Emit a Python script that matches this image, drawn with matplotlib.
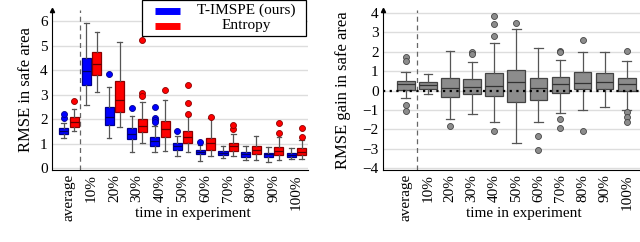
import numpy as np
from matplotlib import pyplot as plt
from matplotlib.patches import Rectangle

plt.rcParams['font.family'] = ['Liberation Serif', 'DejaVu Serif']

labels = ['average', '10%', '20%', '30%', '40%', '50%', '60%', '70%', '80%', '90%', '100%']
series_names = ['T-IMSPE (ours)', 'Entropy']
series_colors = ['#0000ff', '#ff0000']

# T-IMSPE (ours), RMSE in safe area
tim_q1 = [1.41, 3.41, 1.76, 1.17, 0.90, 0.73, 0.56, 0.53, 0.46, 0.46, 0.44]
tim_med = [1.52, 3.97, 2.10, 1.39, 1.10, 0.91, 0.67, 0.60, 0.56, 0.56, 0.53]
tim_q3 = [1.65, 4.48, 2.48, 1.65, 1.25, 1.01, 0.73, 0.69, 0.64, 0.63, 0.60]
tim_lo = [1.21, 2.57, 1.24, 0.64, 0.64, 0.50, 0.29, 0.42, 0.33, 0.26, 0.35]
tim_hi = [1.82, 5.93, 3.29, 2.12, 1.71, 1.30, 0.94, 0.90, 0.91, 0.87, 0.80]
tim_out = [[2.05, 2.20], [], [3.84], [2.46], [2.48, 2.05, 1.97, 1.90], [1.50],
           [1.07], [], [], [], []]

# Entropy, RMSE in safe area
ent_q1 = [1.69, 3.80, 2.27, 1.48, 1.25, 1.03, 0.73, 0.71, 0.57, 0.53, 0.53]
ent_med = [1.86, 4.23, 2.79, 1.71, 1.58, 1.28, 1.03, 0.90, 0.73, 0.71, 0.67]
ent_q3 = [2.07, 4.72, 3.55, 2.00, 1.93, 1.51, 1.24, 1.03, 0.91, 0.87, 0.83]
ent_lo = [1.52, 3.09, 1.69, 1.01, 0.71, 0.67, 0.50, 0.50, 0.33, 0.33, 0.37]
ent_hi = [2.39, 5.54, 5.13, 2.68, 2.78, 2.14, 2.03, 1.41, 1.31, 1.25, 1.15]
ent_out = [[2.73], [], [], [5.24, 3.07, 2.94], [3.18], [2.20, 2.67, 3.37],
           [2.07], [1.60, 1.77], [], [1.45, 1.83], [1.25, 1.65]]

# RMSE gain in safe area
gain_q1 = [0.04, 0.09, -0.35, -0.19, -0.28, -0.58, -0.51, -0.11, 0.09, 0.09, -0.05]
gain_med = [0.35, 0.30, 0.12, 0.16, 0.21, 0.42, 0.12, 0.33, 0.39, 0.44, 0.35]
gain_q3 = [0.51, 0.44, 0.65, 0.60, 0.88, 1.04, 0.62, 0.70, 0.95, 0.91, 0.62]
gain_lo = [-0.40, -0.16, -1.49, -1.23, -1.60, -2.69, -1.63, -1.16, -1.02, -0.86, -1.02]
gain_hi = [0.97, 0.86, 2.06, 1.49, 2.46, 3.15, 2.18, 1.56, 2.00, 2.00, 1.53]
gain_out = [[1.74, 1.53, -0.76, -1.05], [], [-1.85], [2.00, 1.90],
            [3.85, 3.41, 2.79, -2.07], [3.50], [-2.34, -3.09],
            [2.04, 1.97, -1.49, -1.92], [2.58, -2.07], [], [2.04, -1.11, -1.37, -1.63]]


def make_stats(q1, med, q3, lo, hi, out):
    return [dict(q1=a, med=b, q3=c, whislo=d, whishi=e, fliers=f)
            for a, b, c, d, e, f in zip(q1, med, q3, lo, hi, out)]


def draw(ax, stats, pos, width, face, edge, med_col):
    ax.bxp(stats, positions=pos, widths=width, patch_artist=True, showcaps=True,
           boxprops=dict(facecolor=face, edgecolor=edge, linewidth=0.9),
           medianprops=dict(color=med_col, linewidth=0.9),
           whiskerprops=dict(color='#555555', linewidth=0.9),
           capprops=dict(color='#555555', linewidth=0.9),
           flierprops=dict(marker='o', markerfacecolor=face, markeredgecolor=edge,
                           markersize=4.3, markeredgewidth=0.6),
           zorder=3)


def style(ax):
    ax.spines['top'].set_visible(False)
    ax.spines['right'].set_visible(False)
    ax.spines['left'].set_linewidth(0.8)
    ax.spines['bottom'].set_linewidth(0.8)
    ax.tick_params(length=0, labelsize=11, pad=3)
    ax.yaxis.grid(True, color='#dddddd', linewidth=1.0, zorder=0)
    ax.set_axisbelow(True)
    # arrow head on top of the y axis
    ax.plot(0, 1, marker='^', color='black', markersize=3,
            transform=ax.transAxes, clip_on=False)
    ax.axvline(0.5, color='#666666', linestyle=(0, (4, 3)), linewidth=0.9, zorder=1)
    ax.set_xticks(np.arange(len(labels)))
    ax.set_xticklabels(labels, rotation=90, fontsize=11)
    ax.set_xlabel('time in experiment', fontsize=11)
    ax.xaxis.set_label_coords(0.55, -0.23)


fig = plt.figure(figsize=(6.4, 2.42), dpi=100)
ax1 = fig.add_axes([0.081, 0.2975, 0.40, 0.661])
ax2 = fig.add_axes([0.598, 0.2975, 0.402, 0.661])

x = np.arange(len(labels))
draw(ax1, make_stats(tim_q1, tim_med, tim_q3, tim_lo, tim_hi, tim_out),
     x - 0.23, 0.4, series_colors[0], '#00008b', '#000060')
draw(ax1, make_stats(ent_q1, ent_med, ent_q3, ent_lo, ent_hi, ent_out),
     x + 0.23, 0.4, series_colors[1], '#8b0000', '#600000')
style(ax1)
ax1.set_xlim(-0.75, 10.5)
ax1.set_ylim(-0.08, 6.45)
ax1.set_yticks(range(0, 7))
ax1.set_ylabel('RMSE in safe area', fontsize=12, labelpad=4)

# legend box, drawn by hand so the labels can be centred like in the paper
ax1.add_patch(Rectangle((0.354, 0.8375), 0.637, 0.225, transform=ax1.transAxes,
                        facecolor='white', edgecolor='black', linewidth=0.9,
                        clip_on=False, zorder=6))
for row, (name, col) in enumerate(zip(series_names, series_colors)):
    yy = 0.997 - row * 0.097
    ax1.plot([0.402, 0.5], [yy, yy], color=col, linewidth=5, solid_capstyle='butt',
             transform=ax1.transAxes, clip_on=False, zorder=7)
    ax1.text(0.758, yy + 0.004, name, fontsize=11, ha='center', va='center',
             transform=ax1.transAxes, zorder=7)

draw(ax2, make_stats(gain_q1, gain_med, gain_q3, gain_lo, gain_hi, gain_out),
     x, 0.8, '#8c8c8c', '#444444', '#333333')
style(ax2)
ax2.axhline(0, color='black', linestyle=(0, (1, 2)), linewidth=1.6, zorder=4)
ax2.set_xlim(-1.05, 10.6)
ax2.set_ylim(-4.1, 4.15)
ax2.set_yticks(range(-4, 5))
ax2.set_ylabel('RMSE gain in safe area', fontsize=12, labelpad=8)

fig.savefig('out.png', dpi=100)
